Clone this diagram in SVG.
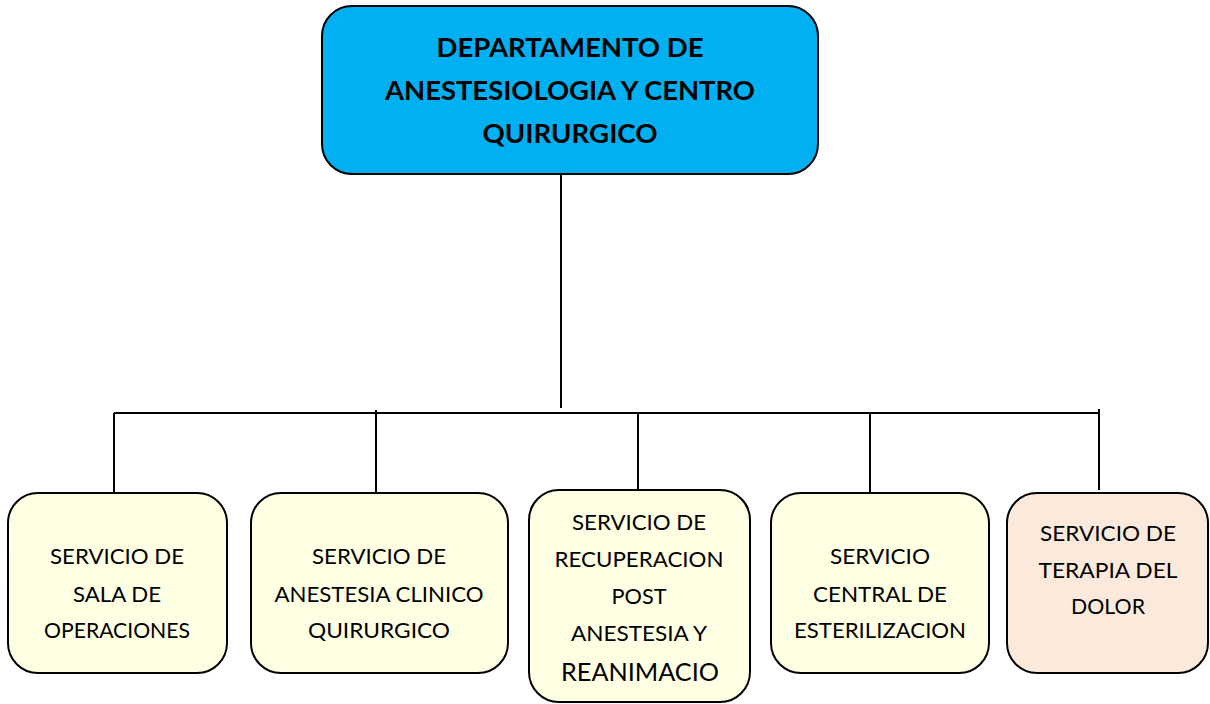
<svg xmlns="http://www.w3.org/2000/svg" width="1210" height="704" viewBox="0 0 1210 704">
<style>
.box{stroke:#000;stroke-width:2}
.y{fill:#FFFFE3}
.p{fill:#FBE9DB}
.t{font-family:Lato,"Open Sans","Liberation Sans",sans-serif;font-size:22px;fill:#000;text-anchor:middle}
.h{font-family:Lato,"Open Sans","Liberation Sans",sans-serif;font-size:27px;font-weight:bold;fill:#000;text-anchor:middle}
.c{stroke:#000;stroke-width:2;fill:none}
</style>
<rect width="1210" height="704" fill="#fff"/>
<g id="connectors">
<path class="c" d="M561 174V408M114 413H1100M114 413V493M376 410V493M638 413V490M870 413V493M1099 409V490"/>
</g>
<g id="dept">
<rect class="box" x="322" y="6" width="496" height="168" rx="30" fill="#00B0F0"/>
<text class="h" x="570" y="57" textLength="267" lengthAdjust="spacingAndGlyphs">DEPARTAMENTO DE</text>
<text class="h" x="570" y="100" textLength="370" lengthAdjust="spacingAndGlyphs">ANESTESIOLOGIA Y CENTRO</text>
<text class="h" x="570" y="143" textLength="175" lengthAdjust="spacingAndGlyphs">QUIRURGICO</text>
</g>
<g id="sala">
<rect class="box y" x="8" y="493" width="219" height="180" rx="30"/>
<text class="t" x="117" y="564" textLength="134" lengthAdjust="spacingAndGlyphs">SERVICIO DE</text>
<text class="t" x="117" y="602" textLength="88" lengthAdjust="spacingAndGlyphs">SALA DE</text>
<text class="t" x="117" y="638" textLength="146" lengthAdjust="spacingAndGlyphs">OPERACIONES</text>
</g>
<g id="anestesia">
<rect class="box y" x="251" y="493" width="257" height="180" rx="30"/>
<text class="t" x="379" y="564" textLength="134" lengthAdjust="spacingAndGlyphs">SERVICIO DE</text>
<text class="t" x="379" y="602" textLength="209" lengthAdjust="spacingAndGlyphs">ANESTESIA CLINICO</text>
<text class="t" x="379" y="638" textLength="142" lengthAdjust="spacingAndGlyphs">QUIRURGICO</text>
</g>
<g id="recuperacion">
<rect class="box y" x="529" y="490" width="221" height="212" rx="30"/>
<text class="t" x="639" y="530" textLength="134" lengthAdjust="spacingAndGlyphs">SERVICIO DE</text>
<text class="t" x="639" y="567" textLength="169" lengthAdjust="spacingAndGlyphs">RECUPERACION</text>
<text class="t" x="639" y="604" textLength="55" lengthAdjust="spacingAndGlyphs">POST</text>
<text class="t" x="639" y="641" textLength="136" lengthAdjust="spacingAndGlyphs">ANESTESIA Y</text>
<text class="t" x="640" y="681" style="font-size:25px" textLength="158" lengthAdjust="spacingAndGlyphs">REANIMACIO</text>
</g>
<g id="esterilizacion">
<rect class="box y" x="771" y="493" width="218" height="180" rx="30"/>
<text class="t" x="880" y="564" textLength="100" lengthAdjust="spacingAndGlyphs">SERVICIO</text>
<text class="t" x="880" y="602" textLength="134" lengthAdjust="spacingAndGlyphs">CENTRAL DE</text>
<text class="t" x="880" y="638" textLength="172" lengthAdjust="spacingAndGlyphs">ESTERILIZACION</text>
</g>
<g id="dolor">
<rect class="box p" x="1007" y="493" width="201" height="180" rx="30"/>
<text class="t" x="1108" y="541" textLength="136" lengthAdjust="spacingAndGlyphs">SERVICIO DE</text>
<text class="t" x="1108" y="578" textLength="139" lengthAdjust="spacingAndGlyphs">TERAPIA DEL</text>
<text class="t" x="1108" y="614" textLength="74" lengthAdjust="spacingAndGlyphs">DOLOR</text>
</g>
</svg>
